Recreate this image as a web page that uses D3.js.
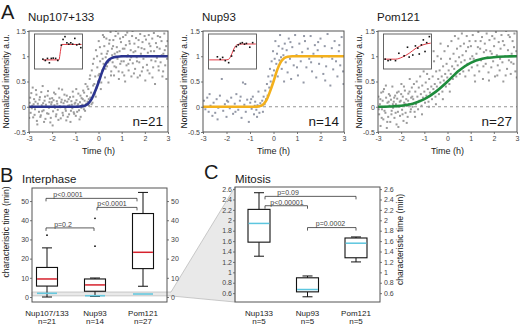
<!DOCTYPE html>
<html><head><meta charset="utf-8">
<script src="https://cdn.jsdelivr.net/npm/d3@7"></script>
<style>
body{margin:0;background:#fff;}
svg text{font-family:"Liberation Sans",Arial,sans-serif;}
</style></head><body>
<svg id="c" width="520" height="325"></svg>
<script>
// ---------------- DATA ----------------
const aTitles = ["Nup107+133", "Nup93", "Pom121"];
const aN = ["n=21", "n=14", "n=27"];
const aYTicks = [-0.5, 0, 0.5, 1, 1.5];
const aXTicks = [-3, -2, -1, 0, 1, 2, 3];

const ptsNup107 = [
[-2.97,0.08],[-2.93,-0.12],[-2.9,0.27],[-2.86,0.02],[-2.82,-0.21],[-2.78,0.15],[-2.74,-0.05],[-2.7,0.33],[-2.66,-0.28],[-2.62,0.06],[-2.57,-0.1],[-2.53,0.19],[-2.49,-0.17],[-2.45,0.03],[-2.41,0.41],[-2.37,-0.07],[-2.33,0.12],[-2.29,-0.24],[-2.25,0.0],[-2.2,0.22],[-2.16,-0.14],[-2.12,0.09],[-2.08,-0.31],[-2.04,0.05],[-2.0,0.17],[-1.96,-0.09],[-1.92,0.28],[-1.88,-0.02],[-1.84,-0.19],[-1.8,0.11],[-1.76,-0.06],[-1.71,0.36],[-1.67,0.01],[-1.63,-0.23],[-1.59,0.14],[-1.55,-0.12],[-1.51,0.07],[-1.47,0.24],[-1.43,-0.04],[-1.39,-0.27],[-1.35,0.1],[-1.31,0.02],[-1.27,-0.15],[-1.23,0.19],[-1.19,-0.08],[-1.15,0.04],[-1.11,0.3],[-1.07,-0.11],[-1.03,0.06],
[-0.98,-0.18],[-0.95,0.13],[-0.91,0.02],[-0.87,0.26],[-0.84,-0.07],[-0.8,0.09],[-0.77,-0.2],[-0.73,0.17],[-0.7,0.04],[-0.66,0.32],[-0.63,-0.05],[-0.6,0.12],[-0.56,0.45],[-0.53,0.06],[-0.5,0.21],
[-0.47,0.1],[-0.44,0.35],[-0.41,0.02],[-0.38,0.55],[-0.35,0.18],[-0.32,0.28],[-0.29,0.72],[-0.26,0.08],[-0.23,0.42],[-0.2,0.95],[-0.17,0.25],[-0.14,0.6],[-0.11,1.12],[-0.08,0.38],[-0.05,0.78],[-0.02,0.5],[0.01,1.3],[0.04,0.65],[0.07,0.9],[0.1,0.35],[0.13,1.05],[0.16,0.72],[0.19,1.42],[0.22,0.85],[0.25,1.2],[0.28,0.58],[0.31,0.98],[0.34,1.35],[0.37,0.8],[0.4,1.1],[0.43,0.48],[0.46,1.25],[0.49,0.92],[0.52,1.48],[0.55,0.7],[0.58,1.15],
[0.61,0.88],[0.64,1.32],[0.67,0.62],[0.7,1.05],[0.73,1.4],[0.76,0.78],[0.79,1.18],[0.82,0.95],[0.85,1.45],[0.88,0.55],[0.91,1.1],[0.94,0.85],[0.97,1.28],[1.0,1.0],[1.03,0.68],[1.06,1.38],[1.09,0.9],[1.12,1.15],[1.15,0.5],[1.18,1.22],[1.21,0.82],[1.24,1.47],[1.27,1.02],[1.3,0.72],[1.33,1.3],[1.36,0.93],[1.39,1.12],[1.42,0.6],[1.45,1.4],[1.48,0.86],[1.51,1.08],[1.55,1.25],[1.58,0.75],[1.62,1.36],[1.65,0.98],[1.69,0.58],[1.72,1.18],[1.76,0.88],[1.8,1.44],[1.83,1.05],[1.87,0.7],[1.9,1.28],[1.94,0.95],[1.98,1.14],[2.02,0.52],[2.05,1.33],[2.09,0.83],[2.13,1.07],[2.17,1.42],[2.2,0.66],[2.24,1.2],[2.28,0.92],[2.32,1.35],[2.36,0.78],[2.4,1.1],[2.44,0.45],[2.48,1.26],[2.52,0.97],[2.56,1.4],[2.6,0.72],[2.64,1.15],[2.68,0.88],[2.72,1.3],[2.76,0.6],[2.8,1.05],[2.84,1.45],[2.88,0.82],[2.92,1.2],[2.96,0.95],
[-2.99,-0.22],[-2.95,0.18],[-2.88,-0.03],[-2.84,0.38],[-2.8,0.05],[-2.76,-0.16],[-2.72,0.1],[-2.68,0.24],[-2.64,-0.35],[-2.6,0.0],[-2.55,0.14],[-2.51,-0.2],[-2.47,0.29],[-2.43,-0.09],[-2.39,0.07],[-2.35,-0.3],[-2.31,0.2],[-2.27,0.04],[-2.22,-0.13],[-2.18,0.31],[-2.14,-0.02],[-2.1,0.16],[-2.06,-0.22],[-2.02,0.09],[-1.98,-0.37],[-1.94,0.13],[-1.9,0.03],[-1.86,0.25],[-1.82,-0.15],[-1.78,0.06],[-1.73,-0.26],[-1.69,0.18],[-1.65,-0.01],[-1.61,0.09],[-1.57,0.34],[-1.53,-0.17],[-1.49,0.0],[-1.45,0.12],[-1.41,-0.08],[-1.37,0.22],[-1.33,-0.2],[-1.29,0.15],[-1.25,0.03],[-1.21,-0.3],[-1.17,0.11],[-1.13,-0.03],[-1.09,0.2],[-1.05,-0.14],[-1.0,0.08],[-0.96,0.35],[-0.92,-0.1],[-0.88,0.05],[-0.82,-0.25],[-0.78,0.22],[-0.74,-0.02],[-0.68,0.15],[-0.62,0.28],[-0.58,-0.08],
[-0.48,0.4],[-0.42,0.15],[-0.36,0.62],[-0.3,0.05],[-0.24,0.85],[-0.18,0.45],[-0.12,0.2],[-0.06,1.0],[0.0,0.62],[0.06,1.18],[0.12,0.48],[0.18,0.95],[0.24,1.38],[0.3,0.75],[0.36,1.05],[0.42,0.88],[0.48,1.32],[0.54,0.62],[0.59,1.02],
[0.63,1.2],[0.69,0.8],[0.75,1.5],[0.81,1.08],[0.87,0.7],[0.93,1.35],[0.99,0.9],[1.05,1.15],[1.11,0.62],[1.17,1.42],[1.23,1.0],[1.29,0.85],[1.35,1.25],[1.41,0.98],[1.47,1.5],[1.53,0.66],[1.59,1.1],[1.66,0.9],[1.73,1.32],[1.79,0.62],[1.86,1.16],[1.92,0.78],[1.99,1.4],[2.06,1.0],[2.12,0.72],[2.19,1.25],[2.26,1.1],[2.33,0.58],[2.39,1.46],[2.46,0.9],[2.53,1.18],[2.59,0.8],[2.66,1.38],[2.73,1.02],[2.79,0.7],[2.86,1.12],[2.93,0.55],[2.98,1.3]
];

const ptsNup93 = [
[-2.96,0.12],[-2.9,-0.05],[-2.82,0.18],[-2.76,-0.1],[-2.68,0.02],[-2.6,-0.18],[-2.55,0.08],[-2.48,-0.12],[-2.42,0.15],[-2.35,-0.02],[-2.28,0.22],[-2.2,0.55],[-2.14,-0.08],[-2.07,0.05],[-2.0,-0.2],[-1.93,0.1],[-1.86,-0.03],[-1.8,0.18],[-1.72,-0.14],[-1.65,0.06],[-1.58,0.25],[-1.5,-0.06],[-1.43,0.12],[-1.36,-0.22],[-1.3,0.48],[-1.24,0.04],[-1.18,-0.1],[-1.12,0.14],[-1.05,-0.3],[-0.99,0.08],[-0.93,-0.04],[-0.88,0.2],[-0.83,-0.15],[-0.78,0.1],[-0.73,-0.06],[-0.68,0.03],[-0.64,0.3],[-0.6,-0.12],[-0.56,0.07],
[-2.72,0.25],[-2.38,-0.25],[-1.98,0.12],[-1.62,-0.1],[-1.4,0.2],[-1.2,0.45],[-0.95,0.15],[-0.7,-0.2],[-0.8,0.02],
[-0.52,0.02],[-0.48,0.12],[-0.45,-0.1],[-0.42,0.2],[-0.38,0.05],[-0.35,0.32],[-0.32,0.15],[-0.28,0.45],[-0.25,0.22],[-0.22,0.6],[-0.18,0.38],[-0.15,0.75],[-0.12,0.5],[-0.08,0.9],[-0.05,0.62],[-0.02,1.1],[0.02,0.72],[0.05,0.95],[0.08,1.3],[0.12,0.85],[0.15,1.05],[0.18,0.6],[0.22,1.2],[0.25,0.92],[0.28,1.42],[0.32,0.98],[0.35,0.75],[0.38,1.15],[0.42,1.02],[0.45,0.5],[0.48,1.25],
[0.52,0.88],[0.56,1.12],[0.6,0.68],[0.65,1.35],[0.7,0.95],[0.75,0.55],[0.8,1.18],[0.86,0.82],[0.92,1.42],[0.98,1.02],[1.04,0.62],[1.1,1.25],[1.16,0.9],[1.22,1.08],[1.28,0.48],[1.34,1.3],[1.4,0.78],[1.46,1.15],[1.52,0.95],[1.58,1.4],[1.64,0.7],[1.7,1.05],[1.76,1.22],[1.82,0.58],[1.88,1.12],[1.94,0.85],[2.0,1.35],[2.06,0.98],[2.12,0.65],[2.18,1.2],[2.24,0.8],[2.3,1.44],[2.36,1.0],[2.42,0.42],[2.48,1.16],[2.54,0.74],[2.6,1.3],[2.66,0.9],[2.72,0.6],[2.78,1.1],[2.84,0.82],[2.9,1.38],[2.96,0.7],
[0.72,1.28],[1.0,0.78],[1.3,1.4],[1.6,0.88],[1.9,1.28],[2.2,0.52],[2.5,0.95],[2.8,1.22],[2.98,0.45]
];

const ptsPom121 = [
[-2.98,0.2],[-2.95,-0.15],[-2.92,0.05],[-2.89,-0.38],[-2.86,0.28],[-2.83,-0.05],[-2.8,0.12],[-2.77,-0.25],[-2.74,0.35],[-2.71,0.0],[-2.68,-0.12],[-2.65,0.18],[-2.62,-0.42],[-2.59,0.08],[-2.56,-0.2],[-2.53,0.25],[-2.5,0.02],[-2.47,-0.3],[-2.44,0.14],[-2.41,-0.08],[-2.38,0.4],[-2.35,-0.02],[-2.32,0.1],[-2.29,-0.22],[-2.26,0.22],[-2.23,0.05],[-2.2,-0.35],[-2.17,0.16],[-2.14,-0.1],[-2.11,0.3],[-2.08,0.0],[-2.05,-0.18],[-2.02,0.12],[-1.99,0.45],[-1.96,-0.06],[-1.93,0.2],[-1.9,-0.28],[-1.87,0.08],[-1.84,0.32],[-1.81,-0.12],[-1.78,0.15],[-1.75,0.02],[-1.72,-0.2],[-1.69,0.26],[-1.66,0.05],[-1.63,0.55],[-1.6,-0.1],[-1.57,0.18],[-1.54,0.38],[-1.51,0.0],
[-2.97,-0.05],[-2.9,0.15],[-2.84,-0.22],[-2.78,0.3],[-2.72,-0.08],[-2.66,0.42],[-2.6,-0.3],[-2.54,0.1],[-2.48,0.22],[-2.42,-0.15],[-2.36,0.05],[-2.3,0.18],[-2.24,-0.12],[-2.18,0.28],[-2.12,-0.4],[-2.06,0.1],[-2.0,0.25],[-1.94,-0.15],[-1.88,0.4],[-1.82,0.05],[-1.76,-0.32],[-1.7,0.12],[-1.64,0.3],[-1.58,-0.05],[-1.52,0.2],
[-1.48,0.15],[-1.45,0.45],[-1.42,-0.1],[-1.39,0.3],[-1.36,0.05],[-1.33,0.5],[-1.3,0.2],[-1.27,-0.05],[-1.24,0.38],[-1.21,0.12],[-1.18,0.6],[-1.15,0.25],[-1.12,0.02],[-1.09,0.42],[-1.06,0.18],[-1.03,0.7],[-1.0,0.3],[-0.97,0.08],[-0.94,0.48],[-0.91,0.22],[-0.88,0.65],[-0.85,0.35],[-0.82,0.1],[-0.79,0.55],[-0.76,0.28],[-0.73,0.8],[-0.7,0.4],[-0.67,0.15],[-0.64,0.6],[-0.61,0.35],[-0.58,0.9],[-0.55,0.45],[-0.52,0.2],[-0.49,0.7],[-0.46,0.4],[-0.43,1.0],[-0.4,0.55],[-0.37,0.25],[-0.34,0.72],[-0.31,0.48],[-0.28,0.95],[-0.25,0.6],[-0.22,0.3],[-0.19,0.8],[-0.16,0.52],[-0.13,1.1],[-0.1,0.65],[-0.07,0.4],[-0.04,0.85],[-0.01,0.58],[0.02,1.2],[0.05,0.72],[0.08,0.45],[0.11,0.95],[0.14,0.65],[0.17,1.3],[0.2,0.8],[0.23,0.55],[0.26,1.05],[0.29,0.75],[0.32,1.4],[0.35,0.9],[0.38,0.6],[0.41,1.15],[0.44,0.82],[0.47,1.35],[0.5,0.98],[0.53,0.65],[0.56,1.2],[0.59,0.88],[0.62,1.45],[0.65,1.02],[0.68,0.7],[0.71,1.25],[0.74,0.92],[0.77,0.6],[0.8,1.1],[0.83,1.4],[0.86,0.85],[0.89,1.18],[0.92,0.72],[0.95,1.3],[0.98,0.95],
[-1.4,-0.2],[-1.1,-0.15],[-0.8,0.0],[-0.5,0.05],[-0.2,0.15],[0.1,0.3],[-0.9,0.9],[-0.6,1.1],[-0.3,1.25],
[1.01,1.2],[1.05,0.78],[1.09,1.42],[1.13,0.95],[1.17,0.62],[1.21,1.3],[1.25,1.05],[1.29,0.82],[1.33,1.48],[1.37,0.7],[1.41,1.15],[1.45,0.92],[1.49,1.38],[1.53,0.55],[1.57,1.08],[1.61,1.25],[1.65,0.85],[1.69,1.45],[1.73,0.98],[1.77,0.68],[1.81,1.32],[1.85,1.1],[1.89,0.78],[1.93,1.4],[1.97,0.9],[2.01,1.2],[2.05,0.6],[2.09,1.48],[2.13,1.02],[2.17,0.82],[2.21,1.28],[2.25,0.72],[2.29,1.15],[2.33,1.42],[2.37,0.88],[2.41,0.5],[2.45,1.22],[2.49,1.0],[2.53,1.5],[2.57,0.75],[2.61,1.12],[2.65,0.92],[2.69,1.38],[2.73,0.65],[2.77,1.05],[2.81,1.3],[2.85,0.85],[2.89,1.45],[2.93,0.7],[2.97,1.1],
[1.07,1.0],[1.19,0.5],[1.31,1.18],[1.43,1.3],[1.55,0.8],[1.67,1.12],[1.79,0.52],[1.91,1.05],[2.03,1.35],[2.15,0.62],[2.27,0.95],[2.39,1.3],[2.51,0.62],[2.63,1.42],[2.75,0.88],[2.87,1.18],[2.99,0.58]
];

// fitted sigmoid curves
const fitNup107 = [[-3,0],[-1,0],[-0.8,0.005],[-0.6,0.02],[-0.45,0.06],[-0.3,0.15],[-0.15,0.3],[0,0.48],[0.15,0.68],[0.3,0.84],[0.45,0.93],[0.6,0.97],[0.8,0.99],[1,1],[3,1]];
const fitNup93 = [[-3,0],[-0.8,0],[-0.6,0.01],[-0.45,0.04],[-0.3,0.13],[-0.15,0.3],[0,0.5],[0.15,0.72],[0.3,0.88],[0.45,0.96],[0.6,0.99],[0.8,1],[3,1]];
const fitPom121 = [[-3,0],[-2.5,0.005],[-2,0.02],[-1.5,0.06],[-1,0.15],[-0.5,0.3],[0,0.5],[0.5,0.72],[1,0.87],[1.5,0.95],[2,0.98],[2.5,0.995],[3,1]];

// insets: single-cell traces (frame index, intensity)
const insetDots107 = [[3.5,0.05],[4.5,-0.04],[5.4,0.1],[6.2,-0.2],[7.0,0.1],[7.8,0.12],[8.8,0.1],[9.7,-0.04],[11.2,1.0],[11.9,1.39],[12.7,1.58],[13.5,1.16],[14.3,1.07],[15.1,1.16],[15.9,1.07],[16.8,1.46],[17.6,1.02],[18.7,1.07],[19.3,0.83]];
const insetFit107 = [[3.5,0],[10.2,0],[10.6,0.35],[11.0,0.8],[11.4,1.05],[19.6,1.05]];
const insetDots93 = [[3.7,0.21],[4.9,0.04],[5.9,0.17],[7.0,-0.05],[8.4,-0.19],[9.6,0.26],[10.6,0.62],[11.6,0.9],[12.4,1.02],[13.3,1.12],[14.1,1.17],[15.0,1.07],[15.8,1.12],[17.2,0.86],[18.4,1.17]];
const insetFit93 = [[0.3,0],[7,0],[8.3,0.03],[9.3,0.25],[10.3,0.65],[11.3,0.95],[12.5,1.06],[14,1.08],[19.7,1.08]];
const insetDots121 = [[0.7,0.05],[1.9,-0.05],[2.9,0.0],[5.0,-0.05],[6.4,0.45],[8.6,0.28],[10.0,0.86],[10.7,0.19],[12.2,0.33],[13.3,0.95],[14.3,0.8],[14.9,0.4],[15.8,1.02],[16.6,1.36],[17.3,0.57],[18.0,1.17],[19.1,1.58]];
const insetFit121 = [[0.3,0.05],[5.0,0.05],[7.9,0.19],[10.7,0.45],[13.6,0.8],[16.4,1.02],[19.7,1.14]];

// Panel B (interphase)
const bCats = ["Nup107/133", "Nup93", "Pom121"];
const bN = ["n=21", "n=14", "n=27"];
const bWhiskLo = [0, 0.3, 5.6];
const bQ1 = [5.7, 3.0, 14.8];
const bMedian = [9.4, 6.3, 23.3];
const bQ3 = [15.4, 9.4, 43.5];
const bWhiskHi = [25.6, 9.9, 54.5];
const bOutliers = [[32.2], [41, 26.5], []];
const bTicks = [0, 10, 20, 30, 40, 50];
const bBrackets = [[0, 2, 51.4, "p<0.0001"], [1, 2, 46.7, "p<0.0001"], [0, 1, 36, "p=0.2"]];

// Panel C (mitosis)
const cCats = ["Nup133", "Nup93", "Pom121"];
const cN = ["n=5", "n=5", "n=5"];
const cWhiskLo = [1.31, 0.53, 1.2];
const cQ1 = [1.58, 0.625, 1.28];
const cMedian = [1.94, 0.67, 1.56];
const cQ3 = [2.21, 0.895, 1.66];
const cWhiskHi = [2.53, 0.93, 1.68];
const cTicks = [0.6, 0.8, 1, 1.2, 1.4, 1.6, 1.8, 2, 2.2, 2.4, 2.6];
const cBrackets = [[0, 2, 2.46, "p=0.09"], [0, 1, 2.28, "p<0.00001"], [1, 2, 1.86, "p=0.0002"]];

// ---------------- DRAW ----------------
const svg = d3.select("#c");
const frameCol = "#555", tickTxt = "#444", titleCol = "#1a1a1a";

function styleAxis(g, fs) {
  g.select(".domain").remove();
  g.selectAll(".tick line").attr("stroke", frameCol).attr("stroke-width", 0.8);
  g.selectAll(".tick text").attr("fill", tickTxt).style("font-size", fs + "px")
    .style("font-family", "Liberation Sans, Arial, sans-serif");
}
const fmt = d => String(+d.toFixed(2));

// Panel letters
svg.append("text").attr("x", 1).attr("y", 18.5).text("A").style("font-size", "20px").attr("fill", titleCol);
svg.append("text").attr("x", 0).attr("y", 182).text("B").style("font-size", "20px").attr("fill", titleCol);
svg.append("text").attr("x", 204).attr("y", 179).text("C").style("font-size", "20px").attr("fill", titleCol);

const aCfg = [
  {pts: ptsNup107, fit: fitNup107, col: "#2b348f", pcol: "#9b9b9b", dots: insetDots107, ifit: insetFit107, x0: 29, x1: 168, ytx: 7},
  {pts: ptsNup93, fit: fitNup93, col: "#f3b01c", pcol: "#9398a6", dots: insetDots93, ifit: insetFit93, x0: 203, x1: 344, ytx: 185},
  {pts: ptsPom121, fit: fitPom121, col: "#1e8c3c", pcol: "#9b9b9b", dots: insetDots121, ifit: insetFit121, x0: 378, x1: 517, ytx: 360}
];
const aTop = 31, aBot = 132;

aCfg.forEach((c, i) => {
  const x = d3.scaleLinear().domain([-3, 3]).range([c.x0, c.x1]);
  const y = d3.scaleLinear().domain([-0.5, 1.5]).range([aBot, aTop]);
  const g = svg.append("g");
  const cid = "clipA" + i;
  svg.append("clipPath").attr("id", cid).append("rect")
    .attr("x", c.x0).attr("y", aTop).attr("width", c.x1 - c.x0).attr("height", aBot - aTop);
  g.append("line").attr("x1", c.x0).attr("x2", c.x1).attr("y1", y(0)).attr("y2", y(0))
    .attr("stroke", "#777").attr("stroke-width", 0.8).attr("stroke-dasharray", "3,3");
  const pg = g.append("g").attr("clip-path", `url(#${cid})`);
  pg.selectAll("rect").data(c.pts).join("rect")
    .attr("x", d => x(d[0]) - 1).attr("y", d => y(d[1]) - 1)
    .attr("width", 2).attr("height", 2).attr("fill", c.pcol);
  pg.append("path").datum(c.fit)
    .attr("d", d3.line().x(d => x(d[0])).y(d => y(d[1])).curve(d3.curveMonotoneX))
    .attr("fill", "none").attr("stroke", c.col).attr("stroke-width", 2.6);
  g.append("rect").attr("x", c.x0).attr("y", aTop).attr("width", c.x1 - c.x0).attr("height", aBot - aTop)
    .attr("fill", "none").attr("stroke", frameCol).attr("stroke-width", 1);
  styleAxis(g.append("g").attr("transform", `translate(${c.x0},0)`)
    .call(d3.axisLeft(y).tickValues(aYTicks).tickSize(2).tickPadding(1).tickFormat(fmt)), 7);
  styleAxis(g.append("g").attr("transform", `translate(0,${aBot})`)
    .call(d3.axisBottom(x).tickValues(aXTicks).tickSize(2).tickPadding(2).tickFormat(fmt)), 7);
  // inset
  const ix0 = c.x0 + 5.5, iy0 = 34, iw = 48, ih = 35;
  g.append("rect").attr("x", ix0).attr("y", iy0).attr("width", iw).attr("height", ih)
    .attr("fill", "#fff").attr("stroke", frameCol).attr("stroke-width", 0.9);
  const ix = d3.scaleLinear().domain([0, 20]).range([ix0, ix0 + iw]);
  const iy = d3.scaleLinear().domain([-0.62, 1.76]).range([iy0 + ih, iy0]);
  g.append("path").datum(c.ifit)
    .attr("d", d3.line().x(d => ix(d[0])).y(d => iy(d[1])).curve(d3.curveMonotoneX))
    .attr("fill", "none").attr("stroke", "#e23b45").attr("stroke-width", 1);
  g.selectAll(".idot").data(c.dots).join("rect").attr("class", "idot")
    .attr("x", d => ix(d[0]) - 0.8).attr("y", d => iy(d[1]) - 0.8)
    .attr("width", 1.6).attr("height", 1.6).attr("fill", "#111");
  // texts
  g.append("text").attr("x", c.x0 - 1).attr("y", 21).text(aTitles[i])
    .style("font-size", "11.5px").attr("fill", titleCol);
  g.append("text").attr("x", c.x1 - 5).attr("y", 126).attr("text-anchor", "end").text(aN[i])
    .style("font-size", "13.5px").attr("fill", titleCol);
  g.append("text").attr("x", (c.x0 + c.x1) / 2).attr("y", 154).attr("text-anchor", "middle")
    .text("Time (h)").style("font-size", "9px").attr("fill", titleCol);
  g.append("text").attr("transform", `translate(${c.ytx},${(aTop + aBot) / 2}) rotate(-90)`)
    .attr("text-anchor", "middle").attr("dominant-baseline", "middle")
    .text("Normalized intensity a.u.").style("font-size", "8.6px").attr("fill", titleCol);
});

// ----- Panel B & C scales -----
const bL = 32, bR = 167, bT = 188, bB = 302;
const cL = 235, cR = 380, cT = 187, cB = 302;
const yB = d3.scaleLinear().domain([-2.6, 56.8]).range([bB, bT]);
const yC = d3.scaleLinear().domain([0.43, 2.64]).range([cB, cT]);
const xB = d3.scalePoint().domain(bCats).range([47, 143]);
const xC = d3.scalePoint().domain(cCats).range([259, 356]);

// frames (white)
svg.append("rect").attr("x", bL).attr("y", bT).attr("width", bR - bL).attr("height", bB - bT).attr("fill", "#fff");
svg.append("rect").attr("x", cL).attr("y", cT).attr("width", cR - cL).attr("height", cB - cT).attr("fill", "#fff");

// zoom wedge: B band (mitosis range) -> C axis
const bandLo = yC.domain()[0] + 0.17, bandHi = yC.domain()[1] - 0.04;
const wedge = [[bL, yB(bandHi)], [bR + 4, yB(bandHi)], [cL, cT], [cL, cB], [bR + 3, yB(bandLo)], [bL, yB(bandLo)]];
svg.append("path").attr("d", "M" + wedge.map(p => p.join(",")).join("L") + "Z")
  .attr("fill", "#e3e3e3").attr("fill-opacity", 0.8).attr("stroke", "#b5b5b5").attr("stroke-width", 0.7);

function drawBoxes(xs, cats, lo, q1, med, q3, hi, medCol, bw) {
  const g = svg.append("g");
  cats.forEach((cat, i) => {
    const cx = xs.x(cat), s = xs.y;
    g.append("line").attr("x1", cx).attr("x2", cx).attr("y1", s(lo[i])).attr("y2", s(q1[i])).attr("stroke", "#111").attr("stroke-width", 1);
    g.append("line").attr("x1", cx).attr("x2", cx).attr("y1", s(q3[i])).attr("y2", s(hi[i])).attr("stroke", "#111").attr("stroke-width", 1);
    [lo[i], hi[i]].forEach(v => g.append("line").attr("x1", cx - 5).attr("x2", cx + 5).attr("y1", s(v)).attr("y2", s(v)).attr("stroke", "#111").attr("stroke-width", 1));
    g.append("rect").attr("x", cx - bw / 2).attr("y", s(q3[i])).attr("width", bw).attr("height", s(q1[i]) - s(q3[i]))
      .attr("fill", "#fff").attr("stroke", "#111").attr("stroke-width", 1.1);
    g.append("line").attr("x1", cx - bw / 2 + 0.6).attr("x2", cx + bw / 2 - 0.6).attr("y1", s(med[i])).attr("y2", s(med[i]))
      .attr("stroke", medCol).attr("stroke-width", 1.5);
  });
  return g;
}
const gB = drawBoxes({x: xB, y: yB}, bCats, bWhiskLo, bQ1, bMedian, bQ3, bWhiskHi, "#d6212c", 21);
// mitosis medians shown in B as cyan lines
bCats.forEach((cat, i) => {
  gB.append("line").attr("x1", xB(cat) - 10).attr("x2", xB(cat) + 10).attr("y1", yB(cMedian[i])).attr("y2", yB(cMedian[i]))
    .attr("stroke", "#66c8de").attr("stroke-width", 1.6);
  bOutliers[i].forEach(v => gB.append("circle").attr("cx", xB(cat)).attr("cy", yB(v)).attr("r", 0.9).attr("fill", "#111"));
});
drawBoxes({x: xC, y: yC}, cCats, cWhiskLo, cQ1, cMedian, cQ3, cWhiskHi, "#5cc6df", 22);

// brackets
function drawBrackets(list, xs, s, ends, ldx) {
  list.forEach((b, k) => {
    const x1 = xs(xs.domain()[b[0]]) + ends[k][0], x2 = xs(xs.domain()[b[1]]) + ends[k][1], yy = s(b[2]);
    svg.append("path").attr("d", `M${x1},${yy + 3}V${yy}H${x2}V${yy + 3}`)
      .attr("fill", "none").attr("stroke", "#333").attr("stroke-width", 0.8);
    svg.append("text").attr("x", x1 + ldx[k]).attr("y", yy - 1.2).attr("text-anchor", "middle")
      .text(b[3]).style("font-size", "7px").attr("fill", "#444");
  });
}
drawBrackets(bBrackets, xB, yB, [[-1, -6], [2, -6], [-1, -1]], [22, 15, 17]);
drawBrackets(cBrackets, xC, yC, [[6, 0], [6, 0], [0, 0]], [23, 22, 23]);

// frames stroke
svg.append("rect").attr("x", bL).attr("y", bT).attr("width", bR - bL).attr("height", bB - bT)
  .attr("fill", "none").attr("stroke", frameCol).attr("stroke-width", 1);
svg.append("rect").attr("x", cL).attr("y", cT).attr("width", cR - cL).attr("height", cB - cT)
  .attr("fill", "none").attr("stroke", frameCol).attr("stroke-width", 1);

// axes
styleAxis(svg.append("g").attr("transform", `translate(${bL},0)`).call(d3.axisLeft(yB).tickValues(bTicks).tickSize(2).tickPadding(1).tickFormat(fmt)), 7);
styleAxis(svg.append("g").attr("transform", `translate(${bR},0)`).call(d3.axisRight(yB).tickValues(bTicks).tickSize(2).tickPadding(2).tickFormat(fmt)), 7);
styleAxis(svg.append("g").attr("transform", `translate(${cL},0)`).call(d3.axisLeft(yC).tickValues(cTicks).tickSize(2).tickPadding(1).tickFormat(fmt)), 7);
styleAxis(svg.append("g").attr("transform", `translate(${cR},0)`).call(d3.axisRight(yC).tickValues(cTicks).tickSize(2).tickPadding(2).tickFormat(fmt)), 7);

// titles
svg.append("text").attr("x", 22).attr("y", 183).text("Interphase").style("font-size", "11.5px").attr("fill", titleCol);
svg.append("text").attr("x", 235).attr("y", 183).text("Mitosis").style("font-size", "11.5px").attr("fill", titleCol);
svg.append("text").attr("transform", `translate(7,${(bT + bB) / 2 - 13}) rotate(-90)`).attr("text-anchor", "middle")
  .attr("dominant-baseline", "middle").text("characteristic time (min)").style("font-size", "8.6px").attr("fill", titleCol);
svg.append("text").attr("transform", `translate(401,${(cT + cB) / 2 - 5}) rotate(-90)`).attr("text-anchor", "middle")
  .attr("dominant-baseline", "middle").text("characteristic time (min)").style("font-size", "8.6px").attr("fill", titleCol);

// category labels
function catLabels(xs, cats, ns) {
  cats.forEach((c, i) => {
    svg.append("text").attr("x", xs(c)).attr("y", 315.5).attr("text-anchor", "middle").text(c).style("font-size", "8px").attr("fill", titleCol);
    svg.append("text").attr("x", xs(c)).attr("y", 324).attr("text-anchor", "middle").text(ns[i]).style("font-size", "8px").attr("fill", titleCol);
  });
}
catLabels(xB, bCats, bN);
catLabels(xC, cCats, cN);
</script>
</body></html>
